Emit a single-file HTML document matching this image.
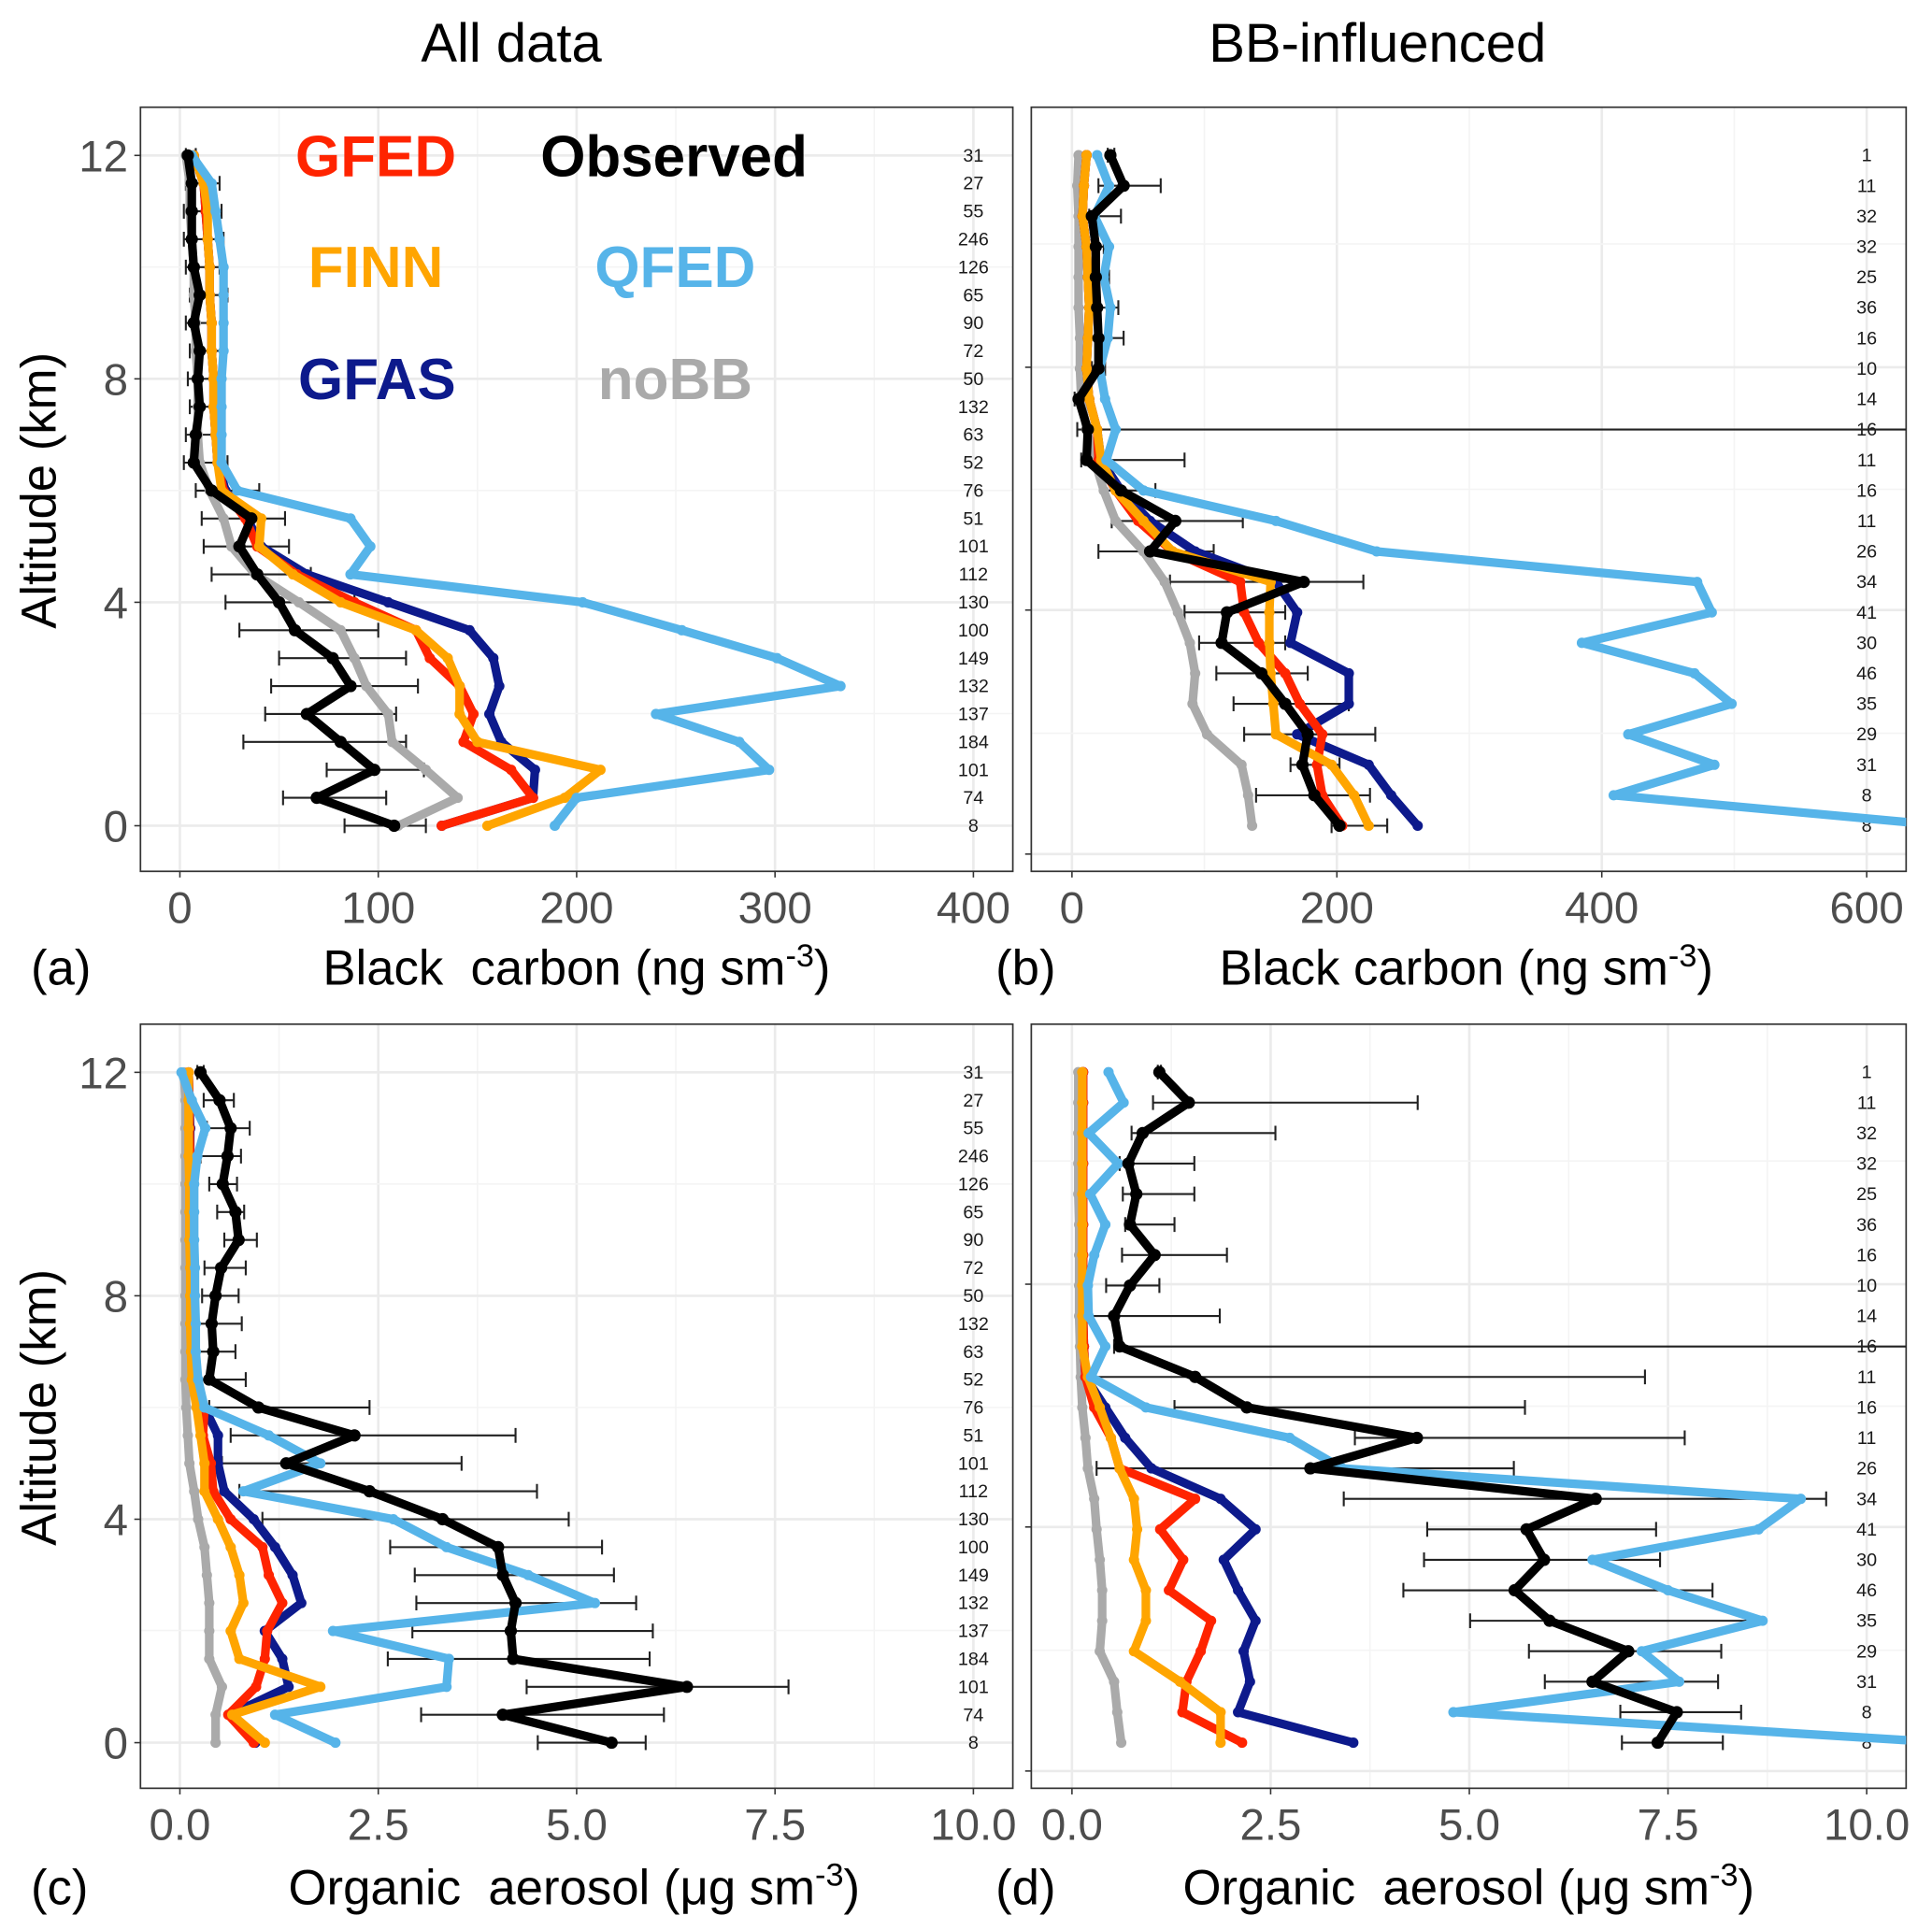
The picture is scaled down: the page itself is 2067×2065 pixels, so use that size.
<!DOCTYPE html>
<html><head><meta charset="utf-8">
<style>
html,body{margin:0;padding:0;background:#fff;}
svg{display:block;font-family:"Liberation Sans",sans-serif;}
</style></head>
<body>
<svg id="fig" width="2067" height="2065" viewBox="0 0 1568 1566" preserveAspectRatio="none" xmlns="http://www.w3.org/2000/svg">
<defs>
<clipPath id="clipA"><rect x="114" y="87" width="708" height="620"/></clipPath>
<clipPath id="clipB"><rect x="837" y="87" width="710" height="620"/></clipPath>
<clipPath id="clipC"><rect x="114" y="831" width="708" height="620"/></clipPath>
<clipPath id="clipD"><rect x="837" y="831" width="710" height="620"/></clipPath>
</defs>
<rect width="1568" height="1566" fill="#fff"/>
<text x="415" y="50" font-size="44" text-anchor="middle" fill="#000">All data</text>
<text x="1118" y="50" font-size="44" text-anchor="middle" fill="#000">BB-influenced</text>
<g id="root"></g>
</svg>
<script>
// ---------- DATA ----------
const altA = [0,0.5,1,1.5,2,2.5,3,3.5,4,4.5,5,5.5,6,6.5,7,7.5,8,8.5,9,9.5,10,10.5,11,11.5,12];
const countsA = [8,74,101,184,137,132,149,100,130,112,101,51,76,52,63,132,50,72,90,65,126,246,55,27,31];
const countsB = [8,8,31,29,35,46,30,41,34,26,11,16,11,16,14,10,16,36,25,32,32,11,1];
const xTicksBC = [0,100,200,300,400];
const xTicksB = [0,200,400,600];
const xTicksOA = ["0.0","2.5","5.0","7.5","10.0"];
const yTicks = [0,4,8,12];

const aObs = [108,69,98,81,64,86,77,58,50,39,30,36,16,7,8,10,9,10,7,10,7,6,6,6,4];
const aObsLo = [83,52,74,32,43,46,50,30,23,16,12,11,8,2,3,5,4,5,3,5,3,2,2,3,3];
const aObsHi = [124,104,123,114,109,120,114,100,88,66,55,53,40,24,22,18,20,22,16,24,20,22,21,20,8];
const aNoBB = [110,140,124,107,105,94,88,81,60,38,26,22,15,10,9,9,9,8,8,7,7,6,5,5,3];
const aGFED = [132,178,167,143,148,141,126,119,88,59,39,33,22,19,18,17,17,16,16,15,15,14,13,12,7];
const aGFAS = [132,178,179,162,156,161,158,146,105,64,41,34,23,19,18,17,17,16,16,15,15,14,13,12,7];
const aFINN = [155,194,212,150,141,141,135,119,81,57,40,41,21,19,18,17,17,16,16,15,15,14,14,12,7];
const aQFED = [189,200,297,282,240,333,301,253,203,86,96,86,29,21,21,21,21,22,22,22,22,20,18,16,6];

const bObs = [202,183,174,178,161,143,113,117,175,59,78,37,11,12,5,20,20,19,18,18,15,39,29];
const bObsLo = [196,139,165,130,122,109,96,85,74,20,30,25,7,4,2,15,13,16,15,13,13,20,27];
const bObsHi = [238,225,202,229,209,178,161,161,220,107,129,63,85,700,10,25,39,35,28,24,37,67,32];
const bNoBB = [136,133,128,102,91,93,89,80,70,54,33,24,17,11,7,6,6,5,5,5,5,4,5];
const bGFED = [204,189,185,189,172,161,141,130,127,76,50,33,20,19,13,11,12,13,12,11,8,9,11];
const bGFAS = [261,241,224,170,209,209,165,170,154,93,59,37,22,19,13,11,12,13,12,11,8,9,11];
const bFINN = [224,213,196,154,152,150,149,149,150,76,54,33,22,19,13,11,12,13,12,11,8,9,11];
const bQFED = [660,409,485,420,498,470,385,483,472,230,154,54,26,33,25,21,27,29,24,28,17,28,19];

const cObs = [5.44,4.07,6.39,4.20,4.17,4.23,4.07,4.01,3.31,2.39,1.34,2.20,0.99,0.37,0.42,0.40,0.45,0.52,0.74,0.70,0.54,0.60,0.64,0.50,0.26];
const cObsLo = [4.51,3.04,4.37,2.62,2.93,2.98,2.96,2.65,1.04,0.75,0.53,0.64,0.37,0.2,0.2,0.2,0.28,0.31,0.56,0.47,0.37,0.26,0.34,0.30,0.22];
const cObsHi = [5.87,6.10,7.67,5.92,5.96,5.75,5.47,5.32,4.90,4.50,3.55,4.23,2.39,0.83,0.70,0.78,0.74,0.83,0.97,0.81,0.72,0.77,0.88,0.68,0.30];
const cNoBB = [0.45,0.45,0.53,0.37,0.37,0.37,0.34,0.31,0.23,0.18,0.12,0.10,0.08,0.07,0.07,0.07,0.07,0.07,0.07,0.07,0.07,0.07,0.07,0.07,0.05];
const cGFED = [0.93,0.61,0.96,1.07,1.10,1.29,1.12,1.04,0.64,0.42,0.39,0.29,0.31,0.18,0.16,0.15,0.15,0.14,0.14,0.14,0.13,0.13,0.12,0.12,0.11];
const cGFAS = [0.95,0.63,1.37,1.29,1.07,1.53,1.42,1.20,0.93,0.56,0.48,0.48,0.31,0.2,0.17,0.16,0.16,0.15,0.15,0.14,0.14,0.13,0.13,0.12,0.11];
const cFINN = [1.07,0.66,1.77,0.75,0.64,0.80,0.75,0.64,0.48,0.31,0.31,0.26,0.21,0.15,0.14,0.13,0.13,0.13,0.12,0.12,0.12,0.11,0.11,0.11,0.11];
const cQFED = [1.96,1.20,3.36,3.39,1.93,5.23,4.39,3.36,2.69,0.80,1.77,1.12,0.31,0.23,0.2,0.2,0.19,0.19,0.18,0.18,0.18,0.22,0.32,0.15,0.02];

const dObs = [7.37,7.61,6.55,7.00,6.01,5.57,5.94,5.72,6.59,3.00,4.34,2.20,1.55,0.60,0.53,0.73,1.04,0.73,0.81,0.71,0.89,1.47,1.10];
const dObsLo = [6.92,6.9,5.95,5.75,5.01,4.17,4.43,4.47,3.42,0.31,3.56,1.29,0.17,0.53,0.2,0.43,0.63,0.67,0.64,0.60,0.75,1.02,1.08];
const dObsHi = [8.19,8.42,8.13,8.17,8.48,8.06,7.40,7.35,9.49,5.56,7.71,5.70,7.21,12,1.86,1.10,1.95,1.29,1.54,1.54,2.56,4.35,1.12];
const dNoBB = [0.62,0.57,0.53,0.35,0.38,0.38,0.35,0.31,0.28,0.20,0.17,0.13,0.11,0.1,0.09,0.09,0.09,0.09,0.08,0.08,0.08,0.08,0.08];
const dGFED = [2.14,1.39,1.44,1.62,1.75,1.22,1.40,1.11,1.55,0.60,0.49,0.28,0.17,0.15,0.14,0.14,0.14,0.14,0.14,0.14,0.14,0.14,0.14];
const dGFAS = [3.54,2.09,2.24,2.16,2.31,2.09,1.91,2.31,1.87,1.00,0.67,0.42,0.17,0.15,0.14,0.14,0.14,0.14,0.14,0.14,0.14,0.14,0.14];
const dFINN = [1.87,1.87,1.36,0.78,0.93,0.93,0.78,0.82,0.78,0.60,0.49,0.35,0.20,0.13,0.13,0.13,0.13,0.13,0.13,0.13,0.13,0.13,0.13];
const dQFED = [11,4.80,7.64,7.17,8.69,7.50,6.55,8.64,9.17,3.40,2.74,0.93,0.24,0.42,0.21,0.2,0.28,0.42,0.23,0.58,0.21,0.65,0.46];

// ---------- DRAWING ----------
const NS = "http://www.w3.org/2000/svg";
const root = document.getElementById('root');
function el(tag, attrs, parent){
  const e = document.createElementNS(NS, tag);
  for (const k in attrs) e.setAttribute(k, attrs[k]);
  (parent||root).appendChild(e);
  return e;
}
const COL = {obs:"#000000", nobb:"#aaaaaa", gfed:"#ff2400", gfas:"#0d1a8c", finn:"#ffa500", qfed:"#56b4e9"};

function panel(cfg){
  const g = el('g', {});
  
  
  const L=cfg.x0, T=cfg.y0, W=cfg.w, H=cfg.h;
  const xs = v => cfg.px0 + v*cfg.kx;
  const levelY = k => cfg.py0 - k*cfg.ky;
  const grid = el('g', {}, g);
  
  
  cfg.minorX.forEach(v=>{ const l=el('line',{x1:xs(v),x2:xs(v),y1:T,y2:T+H,stroke:"#f4f4f4","stroke-width":1.2},grid);
      });
  cfg.majorX.forEach(v=>{ const l=el('line',{x1:xs(v),x2:xs(v),y1:T,y2:T+H,stroke:"#ebebeb","stroke-width":2},grid);
      });
  cfg.minorY.forEach(y=>{ const l=el('line',{x1:L,x2:L+W,y1:y,y2:y,stroke:"#f4f4f4","stroke-width":1.2},grid);
      });
  cfg.majorY.forEach(y=>{ const l=el('line',{x1:L,x2:L+W,y1:y,y2:y,stroke:"#ebebeb","stroke-width":2},grid);
     
    const t=el('line',{x1:L-5,x2:L,y1:y,y2:y,stroke:"#333","stroke-width":1.2},grid);
      });
  const fr = el('rect',{x:L,y:T,width:W,height:H,fill:"none",stroke:"#333","stroke-width":1.3},g);
   
  cfg.majorX.forEach((v,i)=>{
    const t=el('line',{x1:xs(v),x2:xs(v),y1:T+H,y2:T+H+5,stroke:"#333","stroke-width":1.2},g);
     
    const lab=el('text',{x:xs(v),y:T+H+42,"font-size":36,"text-anchor":"middle",fill:"#4d4d4d"},g);
    lab.textContent = cfg.xLabels[i];
     
  });
  if (cfg.yLabels){
    yTicks.forEach(v=>{
      const lab=el('text',{x:L-10,y:cfg.py0 - v/0.5*cfg.ky + 13,"font-size":36,"text-anchor":"end",fill:"#4d4d4d"},g);
      lab.textContent = String(v);
       
    });
  }
  cfg.counts.forEach((c,k)=>{
    const t=el('text',{x:cfg.countX,y:levelY(k)+5,"font-size":15,"text-anchor":"middle",fill:"#1a1a1a"},g);
    t.textContent=String(c);
     
  });
  const sg = el('g',{"clip-path":`url(#${cfg.clip})`},g);
   
  const eg = el('g',{},sg);
   
  cfg.lo.forEach((lo,k)=>{
    const y=levelY(k), x1=xs(lo), x2=xs(cfg.hi[k]);
    const b=el('path',{d:`M${x1},${y}H${x2}M${x1},${y-6}V${y+6}M${x2},${y-6}V${y+6}`,stroke:"#222","stroke-width":1.6,fill:"none"},eg);
     
  });
  cfg.series.forEach(s=>{
    const sgi = el('g',{},sg);
    
    
    const pts = s.data.map((v,k)=>[xs(v),levelY(k)]);
    const pl = el('polyline',{points:pts.map(p=>p.join(',')).join(' '),fill:"none",stroke:s.color,"stroke-width":s.w||7,"stroke-linejoin":"round","stroke-linecap":"round"},sgi);
    
    
    pts.forEach(p=>{
      const c=el('circle',{cx:p[0],cy:p[1],r:s.r||4.2,fill:s.color},sgi);
      
      
    });
  });
  return g;
}

const seriesOf = (o,n,g,f,a,q)=>[
  {name:'nobb',data:n,color:COL.nobb},
  {name:'gfas',data:a,color:COL.gfas},
  {name:'gfed',data:g,color:COL.gfed},
  {name:'finn',data:f,color:COL.finn},
  {name:'qfed',data:q,color:COL.qfed},
  {name:'observed',data:o,color:COL.obs,w:7,r:5}
];

const kyA = 181.3/8;
const kyB = 24.73;
panel({name:'panel-a', clip:'clipA', x0:114,y0:87,w:708,h:620, px0:146, kx:1.61, py0:670, ky:kyA,
  majorX:xTicksBC, minorX:[50,150,250,350], xLabels:xTicksBC.map(String),
  majorY:[670,488.7,307.4,126.1], minorY:[579,398,216.7], yLabels:true,
  counts:countsA, countX:790, lo:aObsLo, hi:aObsHi,
  series:seriesOf(aObs,aNoBB,aGFED,aFINN,aGFAS,aQFED)});
panel({name:'panel-b', clip:'clipB', x0:837,y0:87,w:710,h:620, px0:870, kx:1.075, py0:670, ky:kyB,
  majorX:xTicksB, minorX:[100,300,500], xLabels:xTicksB.map(String),
  majorY:[693,495,298], minorY:[595,397,198], yLabels:false,
  counts:countsB, countX:1515, lo:bObsLo, hi:bObsHi,
  series:seriesOf(bObs,bNoBB,bGFED,bFINN,bGFAS,bQFED)});
panel({name:'panel-c', clip:'clipC', x0:114,y0:831,w:708,h:620, px0:146, kx:64.4, py0:1414, ky:kyA,
  majorX:[0,2.5,5,7.5,10], minorX:[1.25,3.75,6.25,8.75], xLabels:xTicksOA,
  majorY:[1414,1232.7,1051.4,870.1], minorY:[1323,1142,960.7], yLabels:true,
  counts:countsA, countX:790, lo:cObsLo, hi:cObsHi,
  series:seriesOf(cObs,cNoBB,cGFED,cFINN,cGFAS,cQFED)});
panel({name:'panel-d', clip:'clipD', x0:837,y0:831,w:710,h:620, px0:870, kx:64.5, py0:1414, ky:kyB,
  majorX:[0,2.5,5,7.5,10], minorX:[1.25,3.75,6.25,8.75], xLabels:xTicksOA,
  majorY:[1437,1239,1042], minorY:[1339,1141,942], yLabels:false,
  counts:countsB, countX:1515, lo:dObsLo, hi:dObsHi,
  series:seriesOf(dObs,dNoBB,dGFED,dFINN,dGFAS,dQFED)});

const legend = [["GFED",COL.gfed,305,143],["Observed",COL.obs,547,143],["FINN",COL.finn,305,233],["QFED",COL.qfed,548,233],["GFAS",COL.gfas,306,324],["noBB",COL.nobb,548,324]];
legend.forEach(l=>{
  const t=el('text',{x:l[2],y:l[3],"font-size":47,"font-weight":"bold","text-anchor":"middle",fill:l[1]});
  t.textContent=l[0];
  
  
});

function txt(name,x,y,s,size,anchor,rot){
  const t=el('text',{x:x,y:y,"font-size":size,"text-anchor":anchor||"middle",fill:"#000"});
  if(rot) t.setAttribute('transform',`rotate(-90 ${x} ${y})`);
  t.innerHTML=s;
  
  
}
txt('y-axis-title-top',45,398,'Altitude (km)',40,'middle',true);
txt('y-axis-title-bottom',45,1142,'Altitude (km)',40,'middle',true);
txt('x-axis-title-a',468,799,'Black&#160; carbon (ng sm<tspan dy="-15" font-size="26">-3</tspan><tspan dy="15">)</tspan>',40);
txt('x-axis-title-b',1190,799,'Black carbon (ng sm<tspan dy="-15" font-size="26">-3</tspan><tspan dy="15">)</tspan>',40);
txt('x-axis-title-c',466,1545,'Organic&#160; aerosol (μg sm<tspan dy="-15" font-size="26">-3</tspan><tspan dy="15">)</tspan>',40);
txt('x-axis-title-d',1192,1545,'Organic&#160; aerosol (μg sm<tspan dy="-15" font-size="26">-3</tspan><tspan dy="15">)</tspan>',40);
txt('panel-label-a',25,799,'(a)',40,'start');
txt('panel-label-b',808,799,'(b)',40,'start');
txt('panel-label-c',25,1545,'(c)',40,'start');
txt('panel-label-d',808,1545,'(d)',40,'start');
</script>
</body></html>
